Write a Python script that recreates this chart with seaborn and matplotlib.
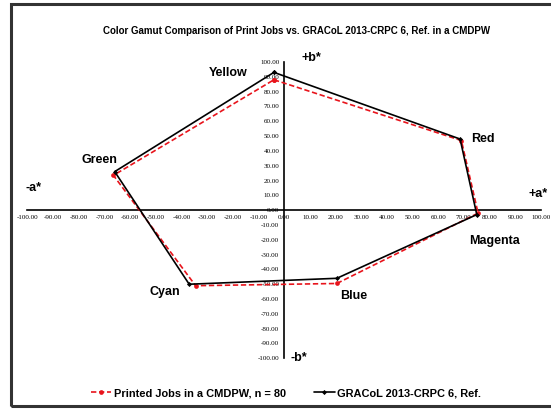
import numpy as np
import pandas as pd
import matplotlib
matplotlib.use("Agg")
import matplotlib.pyplot as plt
from matplotlib import font_manager
from matplotlib.lines import Line2D
from matplotlib.patches import Rectangle
import seaborn as sns

# Colour order around the gamut
colors = ["Yellow", "Red", "Magenta", "Blue", "Cyan", "Green"]

# GRACoL 2013-CRPC 6 reference (a*, b*)
ref_a = [-4.0, 68.5, 75.0, 20.5, -37.0, -66.0]
ref_b = [93.0, 48.0, -3.0, -46.0, -50.0, 26.0]

# Printed jobs in a CMDPW, n = 80 (a*, b*)
job_a = [-4.0, 69.0, 75.5, 20.5, -34.5, -66.5]
job_b = [88.0, 47.0, -2.0, -49.5, -51.0, 23.5]

ticks = list(range(-100, 101, 10))

title = "Color Gamut Comparison of Print Jobs vs. GRACoL 2013-CRPC 6, Ref. in a CMDPW"
job_label = "Printed Jobs in a CMDPW, n = 80"
ref_label = "GRACoL 2013-CRPC 6, Ref."

sns.set_theme(style="white")
names = {f.name for f in font_manager.fontManager.ttflist}
bold_family = "Liberation Sans Narrow" if "Liberation Sans Narrow" in names else "Liberation Sans"
plt.rcParams["font.family"] = [bold_family, "DejaVu Sans"]
plt.rcParams["axes.unicode_minus"] = False
plt.rcParams["text.color"] = "black"

W, H = 551, 409
fig = plt.figure(figsize=(W / 100, H / 100), dpi=100)
fig.patch.set_facecolor("white")

def fx(px):
    return px / W

def fy(py):
    return 1 - py / H

# outer frame
fig.add_artist(Rectangle((fx(11), fy(406)), 1.2, fy(4) - fy(406), transform=fig.transFigure,
                         fill=False, edgecolor="#333333", linewidth=2.2))

left, right, top, bottom = 27.4, 541.0, 62.0, 358.3
ax = fig.add_axes([fx(left), fy(bottom), fx(right) - fx(left), fy(top) - fy(bottom)])
ax.set_facecolor("none")
ax.set_xlim(-100, 100)
ax.set_ylim(-100, 100)

def closed(vals):
    return list(vals) + [vals[0]]

ref_df = pd.DataFrame({"a": closed(ref_a), "b": closed(ref_b)})
job_df = pd.DataFrame({"a": closed(job_a), "b": closed(job_b)})

sns.lineplot(data=ref_df, x="a", y="b", sort=False, estimator=None, ax=ax,
             color="black", linewidth=1.2, marker="D", markersize=2.6,
             markeredgewidth=0, zorder=4)
sns.lineplot(data=job_df, x="a", y="b", sort=False, estimator=None, ax=ax,
             color="#e8141c", linewidth=1.2, linestyle=(0, (3.2, 1.6)), marker="o",
             markersize=3.4, markeredgewidth=0, zorder=3)

# axes crossing at the origin
for side in ["top", "right"]:
    ax.spines[side].set_visible(False)
ax.spines["left"].set_position("zero")
ax.spines["bottom"].set_position("zero")
for side in ["left", "bottom"]:
    ax.spines[side].set_linewidth(1.2)
    ax.spines[side].set_color("black")
    ax.spines[side].set_zorder(2)
ax.set_xticks(ticks)
ax.set_yticks(ticks)
ax.set_xticklabels([f"{t:.2f}" for t in ticks])
ax.set_yticklabels([f"{t:.2f}" for t in ticks])
ax.tick_params(axis="both", direction="inout", length=4, width=1.0, color="black",
               labelcolor="black", labelsize=5.0, pad=1.5)
for lab in ax.get_xticklabels() + ax.get_yticklabels():
    lab.set_family(["Liberation Serif", "DejaVu Serif"])
ax.set_xlabel("")
ax.set_ylabel("")
ax.grid(False)

# title and point labels
fig.text(fx(297), fy(31), title, ha="center", va="center", fontsize=7.0,
         fontweight="bold", color="black")
labels = [("Yellow", 228.5, 73), ("Red", 483, 139), ("Magenta", 494, 241),
          ("Blue", 354, 296), ("Cyan", 164.5, 292), ("Green", 99.5, 160),
          ("-a*", 33, 188), ("+a*", 538, 194), ("+b*", 311, 58), ("-b*", 299, 358)]
for txt, x, y in labels:
    fig.text(fx(x), fy(y), txt, ha="center", va="center", fontsize=9.0,
             fontweight="bold", color="black")

handles = [
    Line2D([], [], color="#e8141c", linewidth=1.2, linestyle=(0, (3.2, 1.6)), marker="o",
           markersize=3.4, markeredgewidth=0),
    Line2D([], [], color="black", linewidth=1.2, marker="D", markersize=2.6, markeredgewidth=0),
]
leg = fig.legend(handles, [job_label, ref_label], loc="center",
                 bbox_to_anchor=(fx(286), fy(393)), ncol=2, frameon=False,
                 prop={"weight": "bold", "size": 7.9},
                 handlelength=1.9, handletextpad=0.25, columnspacing=2.5)
for t in leg.get_texts():
    t.set_color("black")

fig.savefig("out.png", dpi=100)
